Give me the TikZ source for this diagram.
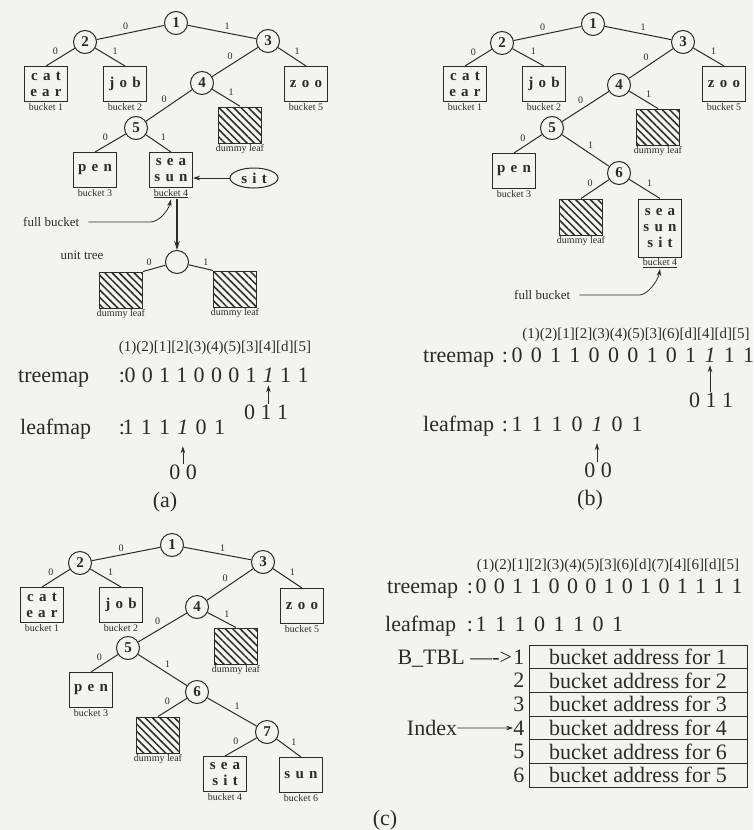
\documentclass[tikz,border=0pt]{standalone}
\usepackage{fontspec}
\setmainfont{Liberation Serif}
\newfontfamily\bktfont[LetterSpace=35]{Liberation Serif}
\definecolor{paper}{RGB}{243,243,241}
\definecolor{ink}{RGB}{45,42,42}
\usepackage{tikz}
\usetikzlibrary{arrows.meta,positioning,shapes.geometric,patterns.meta}

\begin{document}
\begin{tikzpicture}[x=1pt,y=-1pt,color=ink,
    tnode/.style={circle, draw, line width=1pt, minimum size=23pt, inner sep=0pt,
                  font=\fontsize{15}{15}\selectfont\bfseries},
    bkt/.style={draw, line width=1pt, minimum width=43pt, minimum height=35pt, inner sep=0pt,
                align=center, font=\bktfont\fontsize{15}{16}\selectfont\bfseries},
    dleaf/.style={draw, line width=1pt, minimum width=43pt, minimum height=36pt, inner sep=0pt,
                  pattern={Lines[angle=-45,distance=5.2pt,line width=1.5pt]}, pattern color=ink},
    lbl/.style={font=\fontsize{10}{10}\selectfont, inner sep=1pt},
    note/.style={font=\fontsize{13}{13}\selectfont, inner sep=1pt},
    elbl/.style={font=\fontsize{10}{10}\selectfont, inner sep=2pt},
    tedge/.style={line width=1pt, auto},
    bigtxt/.style={font=\fontsize{22}{22}\selectfont, inner sep=0pt, anchor=base},
    coltxt/.style={font=\fontsize{15}{15}\selectfont, inner sep=0pt},
    cell/.style={draw, line width=0.8pt, minimum width=218pt, minimum height=23.67pt, inner sep=0pt,
                 font=\fontsize{22}{22}\selectfont},
    tip/.style={-{Stealth[length=7pt,width=4.5pt]}, line width=0.8pt}]

  \fill[paper] (0,0) rectangle (753,830);
  \useasboundingbox (0,0) rectangle (753,830);

  % (a)
  \node[tnode] (a1) at (176,23) {1};
  \node[tnode] (a2) at (85,42) {2};
  \node[tnode] (a3) at (268,41) {3};
  \node[tnode] (a4) at (202,83) {4};
  \node[tnode] (a5) at (136,128) {5};
  \node[bkt, label={[lbl]below:bucket 1}] (ab1) at (46,84) {cat\\ear};
  \node[bkt, label={[lbl]below:bucket 2}] (ab2) at (125,84) {job};
  \node[bkt, label={[lbl]below:bucket 5}] (ab5) at (306,84) {zoo};
  \node[dleaf, label={[lbl]below:dummy leaf}] (ad1) at (240,125) {};
  \node[bkt, label={[lbl]below:bucket 3}] (ab3) at (95,170) {pen};
  \node[bkt, label={[lbl, name=ab4l]below:\underline{bucket 4}}] (ab4) at (171,170) {sea\\sun};
  \node[ellipse, draw, line width=1pt, minimum width=48pt, minimum height=20pt, inner sep=0pt,
        font=\bktfont\fontsize{15}{15}\selectfont\bfseries] (asit) at (254,178) {sit};
  \draw[tedge] (a1) -- node[elbl, swap] {0} (a2);
  \draw[tedge] (a1) -- node[elbl] {1} (a3);
  \draw[tedge] (a2) -- node[elbl, swap] {0} (ab1.north);
  \draw[tedge] (a2) -- node[elbl] {1} (ab2.north);
  \draw[tedge] (a3) -- node[elbl, swap] {0} (a4);
  \draw[tedge] (a3) -- node[elbl] {1} (ab5.north);
  \draw[tedge] (a4) -- node[elbl, swap] {0} (a5);
  \draw[tedge] (a4) -- node[elbl] {1} (ad1.north);
  \draw[tedge] (a5) -- node[elbl, swap] {0} (ab3.north);
  \draw[tedge] (a5) -- node[elbl] {1} (ab4.north);
  \draw[tip] (asit.west) -- (asit.west -| ab4.east);

  \node[note, anchor=west] (afull) at (22,222) {full bucket};
  \draw[tip] ([xshift=8pt]afull.east) -- ++(62,0) .. controls +(8,0) and +(-3,12) .. (ab4l.south);

  \node[tnode] (au) at (177,262) {};
  \node[note] (autxt) at (82,255) {unit tree};
  \node[dleaf, label={[lbl]below:dummy leaf}] (au0) at (121,290) {};
  \node[dleaf, label={[lbl]below:dummy leaf}] (au1) at (235,289) {};
  \draw[line width=1.6pt, -{Stealth[length=9pt,width=5.5pt]}] (au |- ab4l.south) -- (au.north);
  \draw[tedge] (au) -- node[elbl, swap] {0} (au0.north east);
  \draw[tedge] (au) -- node[elbl] {1} (au1.north west);

  \node[coltxt] (acol) at (215,348) {(1)(2)[1][2](3)(4)(5)[3][4][d][5]};
  \node[bigtxt, anchor=base west] (atm) at (18,382) {treemap};
  \node[bigtxt] (atmc) at (122,382) {:};
  \foreach \b [count=\i] in {0,0,1,1,0,0,0,1,\textit{1},1,1}
    \node[bigtxt] (atb\i) at ({130+17.3*(\i-1)},382) {\b};
  \node[bigtxt] (a011) at (266,419) {0 1 1};
  \draw[tip, shorten >=3pt] (a011.north -| atb9) -- (atb9.south);

  \node[bigtxt, anchor=base west] (alm) at (20,434) {leafmap};
  \node[bigtxt] (almc) at (122,434) {:};
  \foreach \b [count=\i] in {1,1,1,\textit{1},0,1}
    \node[bigtxt] (alb\i) at ({128+18.3*(\i-1)},434) {\b};
  \node[bigtxt] (a00) at (183,479) {0 0};
  \draw[tip, shorten >=12pt] (a00.north -| alb4) -- (alb4.south);
  \node[bigtxt, anchor=center] (acap) at (165,502) {(a)};

  % (b)
  \node[tnode] (b1) at (593,24) {1};
  \node[tnode] (b2) at (502,43) {2};
  \node[tnode] (b3) at (683,42) {3};
  \node[tnode] (b4) at (619,85) {4};
  \node[tnode] (b5) at (552,128) {5};
  \node[tnode] (b6) at (619,173) {6};
  \node[bkt, label={[lbl]below:bucket 1}] (bb1) at (465,84) {cat\\ear};
  \node[bkt, label={[lbl]below:bucket 2}] (bb2) at (544,84) {job};
  \node[bkt, label={[lbl]below:bucket 5}] (bb5) at (724,84) {zoo};
  \node[dleaf, label={[lbl]below:dummy leaf}] (bd1) at (658,127) {};
  \node[bkt, label={[lbl]below:bucket 3}] (bb3) at (514,171) {pen};
  \node[dleaf, label={[lbl]below:dummy leaf}] (bd2) at (581,217) {};
  \node[bkt, minimum height=58pt, label={[lbl, name=bb4l]below:\underline{bucket 4}}] (bb4) at (660,228) {sea\\sun\\sit};
  \draw[tedge] (b1) -- node[elbl, swap] {0} (b2);
  \draw[tedge] (b1) -- node[elbl] {1} (b3);
  \draw[tedge] (b2) -- node[elbl, swap] {0} (bb1.north);
  \draw[tedge] (b2) -- node[elbl] {1} (bb2.north);
  \draw[tedge] (b3) -- node[elbl, swap] {0} (b4);
  \draw[tedge] (b3) -- node[elbl] {1} (bb5.north);
  \draw[tedge] (b4) -- node[elbl, swap] {0} (b5);
  \draw[tedge] (b4) -- node[elbl] {1} (bd1.north);
  \draw[tedge] (b5) -- node[elbl, swap] {0} (bb3.north);
  \draw[tedge] (b5) -- node[elbl] {1} (b6);
  \draw[tedge] (b6) -- node[elbl, swap] {0} (bd2.north);
  \draw[tedge] (b6) -- node[elbl] {1} (bb4.north);

  \node[note, anchor=west] (bfull) at (513,295) {full bucket};
  \draw[tip] ([xshift=8pt]bfull.east) -- ++(60,0) .. controls +(8,0) and +(-2,12) .. (bb4l.south);

  \node[coltxt] (bcol) at (636,335) {(1)(2)[1][2](3)(4)(5)[3](6)[d][4][d][5]};
  \node[bigtxt, anchor=base west] (btm) at (423,362) {treemap};
  \node[bigtxt] (btmc) at (505,362) {:};
  \foreach \b [count=\i] in {0,0,1,1,0,0,0,1,0,1,\textit{1},1,1}
    \node[bigtxt] (btb\i) at ({517+19.3*(\i-1)},362) {\b};
  \node[bigtxt] (b011) at (711,407) {0 1 1};
  \draw[tip, shorten >=3pt] (b011.north -| btb11) -- (btb11.south);

  \node[bigtxt, anchor=base west] (blm) at (423,431) {leafmap};
  \node[bigtxt] (blmc) at (505,431) {:};
  \foreach \b [count=\i] in {1,1,1,0,\textit{1},0,1}
    \node[bigtxt] (blb\i) at ({517+20*(\i-1)},431) {\b};
  \node[bigtxt] (b00) at (598,477) {0 0};
  \draw[tip, shorten >=12pt] (b00.north -| blb5) -- (blb5.south);
  \node[bigtxt, anchor=center] (bcap) at (590,500) {(b)};

  % (c)
  \node[tnode] (c1) at (172,545) {1};
  \node[tnode] (c2) at (80,563) {2};
  \node[tnode] (c3) at (263,562) {3};
  \node[tnode] (c4) at (197,607) {4};
  \node[tnode] (c5) at (128,648) {5};
  \node[tnode] (c6) at (197,692) {6};
  \node[tnode] (c7) at (267,732) {7};
  \node[bkt, label={[lbl]below:bucket 1}] (cb1) at (42,605) {cat\\ear};
  \node[bkt, label={[lbl]below:bucket 2}] (cb2) at (121,605) {job};
  \node[bkt, label={[lbl]below:bucket 5}] (cb5) at (302,606) {zoo};
  \node[dleaf, label={[lbl]below:dummy leaf}] (cd1) at (236,646) {};
  \node[bkt, label={[lbl]below:bucket 3}] (cb3) at (91,690) {pen};
  \node[dleaf, label={[lbl]below:dummy leaf}] (cd2) at (158,735) {};
  \node[bkt, label={[lbl]below:bucket 4}] (cb4) at (225,774) {sea\\sit};
  \node[bkt, label={[lbl]below:bucket 6}] (cb6) at (301,775) {sun};
  \draw[tedge] (c1) -- node[elbl, swap] {0} (c2);
  \draw[tedge] (c1) -- node[elbl] {1} (c3);
  \draw[tedge] (c2) -- node[elbl, swap] {0} (cb1.north);
  \draw[tedge] (c2) -- node[elbl] {1} (cb2.north);
  \draw[tedge] (c3) -- node[elbl, swap] {0} (c4);
  \draw[tedge] (c3) -- node[elbl] {1} (cb5.north);
  \draw[tedge] (c4) -- node[elbl, swap] {0} (c5);
  \draw[tedge] (c4) -- node[elbl] {1} (cd1.north);
  \draw[tedge] (c5) -- node[elbl, swap] {0} (cb3.north);
  \draw[tedge] (c5) -- node[elbl] {1} (c6);
  \draw[tedge] (c6) -- node[elbl, swap] {0} (cd2.north);
  \draw[tedge] (c6) -- node[elbl] {1} (c7);
  \draw[tedge] (c7) -- node[elbl, swap] {0} (cb4.north);
  \draw[tedge] (c7) -- node[elbl] {1} (cb6.north);

  \node[coltxt] (ccol) at (608,566) {(1)(2)[1][2](3)(4)(5)[3](6)[d](7)[4][6][d][5]};
  \node[bigtxt, anchor=base west] (ctm) at (387,593) {treemap};
  \node[bigtxt] (ctmc) at (470,593) {:};
  \foreach \b [count=\i] in {0,0,1,1,0,0,0,1,0,1,0,1,1,1,1}
    \node[bigtxt] (ctb\i) at ({481+18.3*(\i-1)},593) {\b};
  \node[bigtxt, anchor=base west] (clm) at (385,631) {leafmap};
  \node[bigtxt] (clmc) at (470,631) {:};
  \foreach \b [count=\i] in {1,1,1,0,1,1,0,1}
    \node[bigtxt] (clb\i) at ({481+19.5*(\i-1)},631) {\b};

  \foreach \t [count=\i] in {1,2,3,4,6,5} {
    \node[cell] (row\i) at (638,{657+23.67*(\i-1)}) {bucket address for \t};
    \node[bigtxt, anchor=east] (num\i) at ([xshift=-4pt]row\i.west) {\i};
  }
  \node[bigtxt, anchor=base east] (btbl) at ([xshift=-1pt]num1.base west) {B\_TBL \textemdash{}-{}>};
  \node[bigtxt, anchor=center] (idx) at (432,728) {Index};
  \draw[tip] (idx.east) -- (num4.west);
  \node[bigtxt, anchor=center] (ccap) at (385,820) {(c)};
\end{tikzpicture}
\end{document}
